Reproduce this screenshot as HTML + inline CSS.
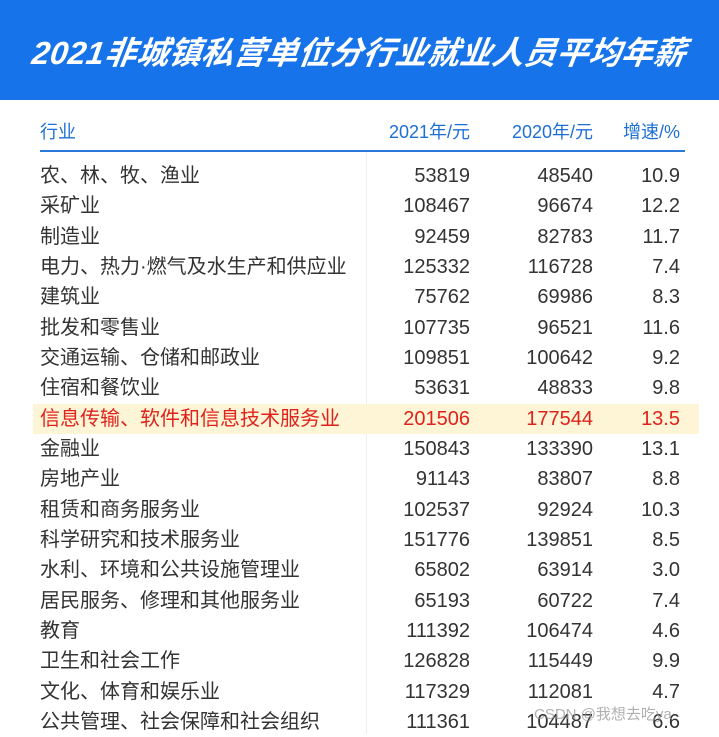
<!DOCTYPE html>
<html><head><meta charset="utf-8"><style>
body{margin:0;width:719px;height:734px;overflow:hidden;background:#fff;font-family:"Liberation Sans","Noto Sans CJK SC",sans-serif;position:relative}
.hd{position:absolute;left:0;top:0;width:719px;height:100px;background:#1673ea}
.tt{position:absolute;left:0;top:28px;width:719px;text-align:center;color:#fff;font-size:32px;font-weight:bold;font-style:italic;letter-spacing:0.3px;transform:skewX(-8deg)}
.th{position:absolute;top:118px;font-size:18px;color:#1d6fd6}
.line{position:absolute;left:40px;top:150px;width:645px;height:2px;background:#2a78d8}
.vl{position:absolute;left:366px;top:152px;width:1px;height:582px;background:#eee}
.hl{position:absolute;left:33px;top:404px;width:666px;height:30px;background:#fdf5d6}
.r{position:absolute;height:30px;line-height:30px;font-size:20px;color:#333;white-space:nowrap}
.red{color:#e0221c}
.wm{position:absolute;left:534px;top:703px;font-size:15px;color:rgba(150,150,150,.75)}
</style></head><body>
<div class="hd"></div><div class="tt">2021非城镇私营单位分行业就业人员平均年薪</div>
<div class="th" style="left:40px">行业</div>
<div class="th" style="right:249px">2021年/元</div>
<div class="th" style="right:126px">2020年/元</div>
<div class="th" style="right:39px">增速/%</div>
<div class="line"></div><div class="vl"></div><div class="hl"></div>
<div id="t"></div>
<script>
var d=[["农、林、牧、渔业",53819,48540,"10.9"],["采矿业",108467,96674,"12.2"],["制造业",92459,82783,"11.7"],["电力、热力·燃气及水生产和供应业",125332,116728,"7.4"],["建筑业",75762,69986,"8.3"],["批发和零售业",107735,96521,"11.6"],["交通运输、仓储和邮政业",109851,100642,"9.2"],["住宿和餐饮业",53631,48833,"9.8"],["信息传输、软件和信息技术服务业",201506,177544,"13.5"],["金融业",150843,133390,"13.1"],["房地产业",91143,83807,"8.8"],["租赁和商务服务业",102537,92924,"10.3"],["科学研究和技术服务业",151776,139851,"8.5"],["水利、环境和公共设施管理业",65802,63914,"3.0"],["居民服务、修理和其他服务业",65193,60722,"7.4"],["教育",111392,106474,"4.6"],["卫生和社会工作",126828,115449,"9.9"],["文化、体育和娱乐业",117329,112081,"4.7"],["公共管理、社会保障和社会组织",111361,104487,"6.6"]];
var h="";d.forEach(function(r,i){var y=161+i*30.33,c=i==8?" red":"";
h+='<div class="r'+c+'" style="left:40px;top:'+y+'px">'+r[0]+'</div><div class="r'+c+'" style="right:249px;top:'+y+'px">'+r[1]+'</div><div class="r'+c+'" style="right:126px;top:'+y+'px">'+r[2]+'</div><div class="r'+c+'" style="right:39px;top:'+y+'px">'+r[3]+'</div>';});
document.getElementById("t").innerHTML=h;
</script>
<div class="wm">CSDN @我想去吃ya</div>
</body></html>
